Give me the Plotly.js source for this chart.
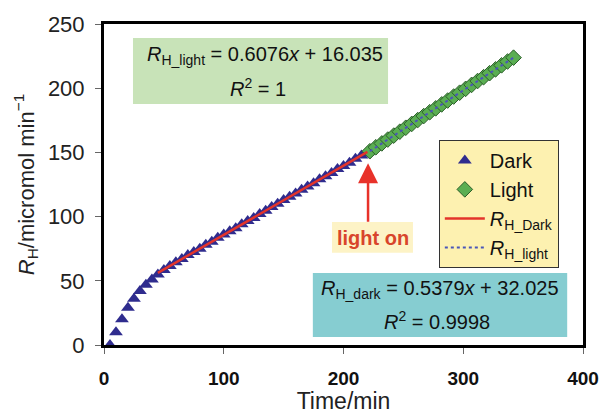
<!DOCTYPE html>
<html>
<head>
<meta charset="utf-8">
<script src="https://cdn.plot.ly/plotly-3.0.1.min.js"></script>
<style>html,body{margin:0;padding:0;background:#fff;}#chart{width:602px;height:414px;}</style>
</head>
<body>
<div id="chart"></div>
<script>
// Dark period measurements (time in min, R_H in micromol)
var darkTime = [5,10,15,20,25,30,35,40,45,50,55,60,65,70,75,80,85,90,95,100,105,110,115,120,125,130,135,140,145,150,155,160,165,170,175,180,185,190,195,200,205,210,215,220];
var darkRH = [0,10,20,29,36,42,47,51,55,58.5,61.5,64.5,67,70,72.5,75,78,80.5,83.5,86,88.5,91,94,96.5,99,102,104.5,107.5,110,113,115.5,118,121,123.5,126,129,131.5,134,137,139.5,142,145,147.5,150];
// Light period measurements
var lightTime = [222,227,232,237,242,247,252,257,262,267,272,277,282,287,292,297,302,307,312,317,322,327,332,337,342];
var lightRH = [150.9,154.0,157.0,160.0,163.1,166.1,169.2,172.2,175.2,178.3,181.3,184.3,187.4,190.4,193.5,196.5,199.5,202.6,205.6,208.6,211.7,214.7,217.8,220.8,223.8];
// Fit line end points
var darkFitTime = [45,220];
var darkFitRH = [56.2,150.4];
var lightFitTime = [222,342];
var lightFitRH = [150.9,223.8];
// Tick labels
var xTicks = [0,100,200,300,400];
var yTicks = [0,50,100,150,200,250];

var FONT = "'Liberation Sans', Arial, sans-serif";

var traces = [
  {x: darkTime, y: darkRH, name: 'Dark', mode: 'markers', type: 'scatter',
   marker: {symbol: 'triangle-up', size: 12, color: '#2f2c8e', line: {width: 0}}},
  {x: lightTime, y: lightRH, name: 'Light', mode: 'markers', type: 'scatter',
   marker: {symbol: 'diamond', size: 12, color: '#5aae52', line: {width: 1, color: '#2c5e2a'}}},
  {x: darkFitTime, y: darkFitRH, name: '<i>R</i><sub>H_Dark</sub>', mode: 'lines', type: 'scatter',
   line: {color: '#e3342b', width: 2.5}},
  {x: lightFitTime, y: lightFitRH, name: '<i>R</i><sub>H_light</sub>', mode: 'lines', type: 'scatter',
   line: {color: '#4a56b8', width: 2, dash: 'dot'}}
];

var layout = {
  width: 602, height: 414,
  margin: {l: 104, r: 19, t: 24, b: 69},
  paper_bgcolor: '#ffffff', plot_bgcolor: '#ffffff',
  font: {family: FONT, color: '#222'},
  showlegend: true,
  legend: {x: 0.699, y: 0.639, xanchor: 'left', yanchor: 'top',
    bgcolor: '#fdf1b0', bordercolor: '#333', borderwidth: 1,
    font: {size: 20, family: FONT, color: '#111'}, itemwidth: 40},
  xaxis: {range: [0, 400], tickvals: xTicks, ticktext: xTicks.map(String),
    showgrid: false, zeroline: false, showline: true, linecolor: '#000', linewidth: 3, mirror: true,
    ticks: 'outside', ticklen: 6, tickcolor: '#666', tickwidth: 1,
    tickfont: {size: 19, weight: 'bold', family: FONT, color: '#111'}, ticklabelstandoff: 8,
    title: {text: 'Time/min', font: {size: 23, family: FONT, color: '#222'}, standoff: 6}},
  yaxis: {range: [0, 250], tickvals: yTicks, ticktext: yTicks.map(String),
    showgrid: false, zeroline: false, showline: true, linecolor: '#000', linewidth: 3, mirror: true,
    ticks: 'outside', ticklen: 6, tickcolor: '#666', tickwidth: 1,
    tickfont: {size: 22, family: FONT, color: '#222'}, ticklabelstandoff: 6,
    title: {text: '<i>R</i><sub>H</sub>/micromol min<sup>−1</sup>', font: {size: 22, family: FONT, color: '#222'}, standoff: 8}},
  shapes: [
    {type: 'rect', xref: 'paper', yref: 'paper', x0: 0.0605, x1: 0.593, y0: 0.751, y1: 0.956,
     fillcolor: '#c8e3b8', line: {width: 0}, layer: 'below'},
    {type: 'rect', xref: 'paper', yref: 'paper', x0: 0.436, x1: 0.967, y0: 0.025, y1: 0.224,
     fillcolor: '#86cdd1', line: {width: 0}, layer: 'below'},
    {type: 'rect', xref: 'paper', yref: 'paper', x0: 0.476, x1: 0.645, y0: 0.287, y1: 0.383,
     fillcolor: '#fdf3c6', line: {width: 0}, layer: 'below'}
  ],
  annotations: [
    {xref: 'paper', yref: 'paper', x: (264.5-104)/479, y: (345-55)/321, xanchor: 'center', yanchor: 'middle',
     showarrow: false, text: '<i>R</i><sub>H_light</sub> = 0.6076<i>x</i> + 16.035', font: {size: 20, family: FONT, color: '#111'}},
    {xref: 'paper', yref: 'paper', x: (258-104)/479, y: (345-87)/321, xanchor: 'center', yanchor: 'middle',
     showarrow: false, text: '<i>R</i><sup>2</sup> = 1', font: {size: 20, family: FONT, color: '#111'}},
    {xref: 'paper', yref: 'paper', x: (440-104)/479, y: (345-289)/321, xanchor: 'center', yanchor: 'middle',
     showarrow: false, text: '<i>R</i><sub>H_dark</sub> = 0.5379<i>x</i> + 32.025', font: {size: 20, family: FONT, color: '#111'}},
    {xref: 'paper', yref: 'paper', x: (437-104)/479, y: (345-320)/321, xanchor: 'center', yanchor: 'middle',
     showarrow: false, text: '<i>R</i><sup>2</sup> = 0.9998', font: {size: 20, family: FONT, color: '#111'}},
    {xref: 'x', yref: 'y', x: 220.5, y: 141.5, ax: 0, ay: 60, showarrow: true,
     arrowhead: 2, arrowsize: 1.6, arrowwidth: 2.5, arrowcolor: '#e8322a', standoff: 0,
     text: '', font: {size: 2}},
    {xref: 'paper', yref: 'paper', x: (372.5-104)/479, y: (345-238)/321, xanchor: 'center', yanchor: 'middle',
     showarrow: false, text: '<b>light on</b>', font: {size: 20, family: FONT, color: '#d8452b'}}
  ]
};

Plotly.newPlot('chart', traces, layout, {displayModeBar: false, staticPlot: true});
</script>
</body>
</html>
